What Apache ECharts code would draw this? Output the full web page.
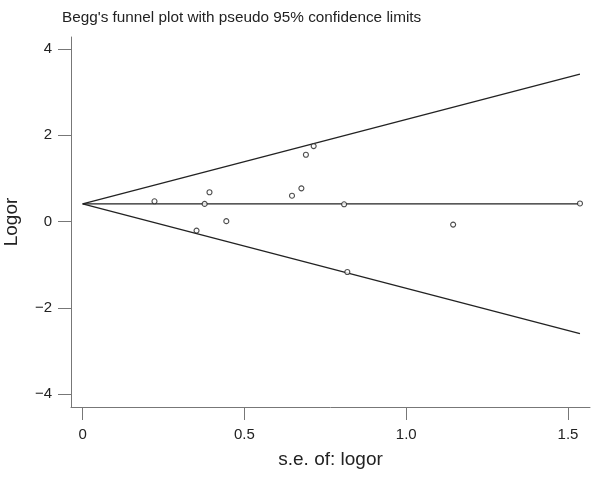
<!DOCTYPE html>
<html>
<head>
<meta charset="utf-8">
<script src="https://cdn.jsdelivr.net/npm/echarts@6/dist/echarts.min.js"></script>
<style>html,body{margin:0;padding:0;background:#fff}#c{width:600px;height:477px}</style>
</head>
<body>
<div id="c"></div>
<script>
// Study points: standard error of logor and logor
var seValues = [0.222, 0.352, 0.377, 0.392, 0.444, 0.647, 0.676, 0.690, 0.714, 0.808, 0.818, 1.145, 1.537];
var logorValues = [0.47, -0.21, 0.41, 0.68, 0.01, 0.60, 0.77, 1.55, 1.75, 0.40, -1.17, -0.07, 0.42];
// Funnel lines (pooled estimate and pseudo 95% limits) at se = 0 and se = max
var limitSe = [0, 1.537];
var pooledLine = [0.41, 0.41];
var upperLimit = [0.41, 3.42];
var lowerLimit = [0.41, -2.60];
// Tick labels
var xTicks = [0, 0.5, 1.0, 1.5];
var xTickLabels = ['0', '0.5', '1.0', '1.5'];
var yTicks = [-4, -2, 0, 2, 4];
var yTickLabels = ['\u22124', '\u22122', '0', '2', '4'];

function pairs(xs, ys) { return xs.map(function (x, i) { return [x, ys[i]]; }); }

var font = "'Liberation Sans', Arial, Helvetica, sans-serif";
var chart = echarts.init(document.getElementById('c'), null, { renderer: 'canvas' });
var lineStyle = { color: '#222', width: 1.3 };
chart.setOption({
  animation: false,
  backgroundColor: '#fff',
  title: {
    text: "Begg's funnel plot with pseudo 95% confidence limits",
    left: 57, top: 5,
    textStyle: { fontFamily: font, fontSize: 15.3, fontWeight: 'normal', color: '#222' }
  },
  grid: { left: 71, right: 10, top: 37, bottom: 70, containLabel: false, outerBoundsMode: 'none' },
  xAxis: {
    type: 'value', min: -0.036, max: 1.568,
    name: 's.e. of: logor', nameLocation: 'middle', nameGap: 43,
    nameTextStyle: { fontFamily: font, fontSize: 19, color: '#222' },
    axisLine: { show: true, onZero: false, lineStyle: { color: '#777', width: 1 } },
    axisTick: { show: true, inside: false, length: 13, customValues: xTicks, lineStyle: { color: '#777' } },
    axisLabel: {
      customValues: xTicks, margin: 20, fontFamily: font, fontSize: 15, color: '#222',
      formatter: function (v) { var i = xTicks.indexOf(v); return i >= 0 ? xTickLabels[i] : ''; }
    },
    splitLine: { show: false }
  },
  yAxis: {
    type: 'value', min: -4.3, max: 4.28,
    name: 'Logor', nameLocation: 'middle', nameGap: 50, nameRotate: 90,
    nameTextStyle: { fontFamily: font, fontSize: 19, color: '#222' },
    axisLine: { show: true, onZero: false, lineStyle: { color: '#777', width: 1 } },
    axisTick: { show: true, inside: false, length: 13, customValues: yTicks, lineStyle: { color: '#777' } },
    axisLabel: {
      customValues: yTicks, margin: 19, fontFamily: font, fontSize: 15, color: '#222',
      formatter: function (v) { var i = yTicks.indexOf(v); return i >= 0 ? yTickLabels[i] : ''; }
    },
    splitLine: { show: false }
  },
  series: [
    { type: 'line', data: pairs(limitSe, upperLimit), symbol: 'none', lineStyle: lineStyle, z: 2 },
    { type: 'line', data: pairs(limitSe, pooledLine), symbol: 'none', lineStyle: lineStyle, z: 2 },
    { type: 'line', data: pairs(limitSe, lowerLimit), symbol: 'none', lineStyle: lineStyle, z: 2 },
    {
      type: 'scatter', data: pairs(seValues, logorValues), symbol: 'circle', symbolSize: 5,
      itemStyle: { color: '#fff', borderColor: '#222', borderWidth: 1.1 }, z: 5
    }
  ]
});
</script>
</body>
</html>
